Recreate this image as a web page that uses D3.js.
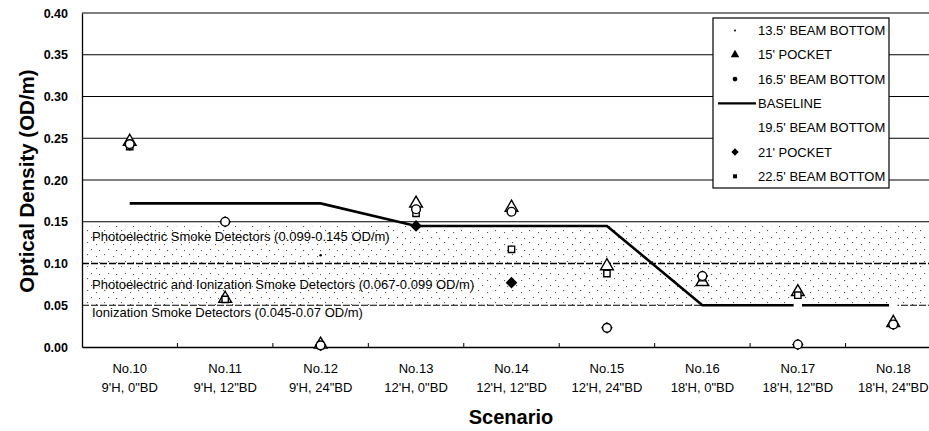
<!DOCTYPE html>
<html>
<head>
<meta charset="utf-8">
<script src="https://cdn.jsdelivr.net/npm/d3@7/dist/d3.min.js"></script>
<style>
  html, body { margin: 0; padding: 0; background: #fff; }
  svg { display: block; font-family: "Liberation Sans", Arial, sans-serif; }
</style>
</head>
<body>
<svg id="chart" width="929" height="431"></svg>
<script>
// ---------------- data ----------------
const categories = ["No.10", "No.11", "No.12", "No.13", "No.14", "No.15", "No.16", "No.17", "No.18"];
const subLabels = ["9'H, 0\"BD", "9'H, 12\"BD", "9'H, 24\"BD", "12'H, 0\"BD", "12'H, 12\"BD", "12'H, 24\"BD", "18'H, 0\"BD", "18'H, 12\"BD", "18'H, 24\"BD"];
const yTicks = [0, 0.05, 0.10, 0.15, 0.20, 0.25, 0.30, 0.35, 0.40];

const beam135 = [0.245, 0.150, 0.110, 0.165, 0.120, 0.100, 0.088, 0.065, 0.050];
const pocket15 = [0.246, 0.058, 0.003, 0.172, 0.167, 0.097, 0.078, 0.066, 0.029];
const beam165 = [0.243, 0.150, 0.002, 0.165, 0.162, 0.023, 0.085, 0.003, 0.027];
const baseline = [0.172, 0.172, 0.172, 0.145, 0.145, 0.145, 0.050, 0.050, 0.050];
const beam195 = [null, null, null, null, null, null, null, 0.050, 0.048];
const pocket21 = [0.242, 0.150, 0.002, 0.145, 0.077, 0.023, 0.085, 0.003, 0.027];
const beam225 = [0.240, 0.057, 0.002, 0.160, 0.117, 0.088, 0.083, 0.062, 0.027];

const seriesNames = ["13.5' BEAM BOTTOM", "15' POCKET", "16.5' BEAM BOTTOM", "BASELINE", "19.5' BEAM BOTTOM", "21' POCKET", "22.5' BEAM BOTTOM"];

const bandNames = ["Photoelectric Smoke Detectors (0.099-0.145 OD/m)",
                   "Photoelectric and Ionization Smoke Detectors (0.067-0.099 OD/m)",
                   "Ionization Smoke Detectors (0.045-0.07 OD/m)"];
const bandLow = [0.099, 0.067, 0.050];
const bandHigh = [0.145, 0.099, 0.070];

// ---------------- layout ----------------
const svg = d3.select("#chart");
const plotL = 82, plotR = 941, plotT = 13, plotB = 347;

const x = d3.scaleBand().domain(categories).range([plotL, plotR]).paddingInner(0).paddingOuter(0);
const y = d3.scaleLinear().domain([0, 0.40]).range([plotB, plotT]);
const cx = c => x(c) + x.bandwidth() / 2;
const diamond = d3.symbolDiamond2 || d3.symbolDiamond;

// sparse stipple pattern for detector bands
const defs = svg.append("defs");
const pat = defs.append("pattern").attr("id", "stip").attr("patternUnits", "userSpaceOnUse")
  .attr("width", 17).attr("height", 12);
[[2, 2], [11, 4], [6, 9], [14, 10]].forEach(p => {
  pat.append("rect").attr("x", p[0]).attr("y", p[1]).attr("width", 1.1).attr("height", 1.1).attr("fill", "#555");
});

// bands
svg.append("g").selectAll("rect").data(bandNames).join("rect")
  .attr("x", plotL).attr("width", plotR - plotL)
  .attr("y", (d, i) => y(bandHigh[i]))
  .attr("height", (d, i) => y(bandLow[i]) - y(bandHigh[i]))
  .attr("fill", "url(#stip)");

// gridlines
const isTen = d => Math.abs(d - 0.10) < 1e-9;
const isFive = d => Math.abs(d - 0.05) < 1e-9;
svg.append("g").selectAll("line").data(yTicks.filter(v => v > 0)).join("line")
  .attr("x1", plotL).attr("x2", plotR)
  .attr("y1", d => y(d)).attr("y2", d => y(d))
  .attr("stroke", "#000")
  .attr("stroke-width", d => isTen(d) ? 1.6 : 1.2)
  .attr("stroke-dasharray", d => (isTen(d) || isFive(d)) ? "7,2" : null);

// y axis
const yAxis = d3.axisLeft(y).tickValues(yTicks).tickFormat(d3.format(".2f")).tickSize(0).tickPadding(14);
const gy = svg.append("g").attr("transform", `translate(${plotL},0)`).call(yAxis);
gy.select(".domain").attr("stroke", "#000").attr("stroke-width", 1.3);
gy.selectAll("text").attr("font-size", 12.5).attr("font-weight", "bold").attr("fill", "#000")
  .attr("font-family", "Liberation Sans, Arial, sans-serif");

// x axis
const xAxis = d3.axisBottom(x).tickSize(0).tickFormat(() => "");
const gx = svg.append("g").attr("transform", `translate(0,${plotB})`).call(xAxis);
gx.select(".domain").attr("stroke", "#000").attr("stroke-width", 1.6);
svg.append("g").selectAll("line").data(categories.slice(1)).join("line")
  .attr("x1", d => x(d)).attr("x2", d => x(d))
  .attr("y1", plotB - 4).attr("y2", plotB)
  .attr("stroke", "#000").attr("stroke-width", 1);

const xl = svg.append("g").selectAll("g").data(categories).join("g")
  .attr("transform", d => `translate(${cx(d)},0)`);
xl.append("text").attr("y", 373).attr("text-anchor", "middle").attr("font-size", 13).text(d => d);
xl.append("text").attr("y", 392).attr("text-anchor", "middle").attr("font-size", 13)
  .text((d, i) => subLabels[i]);

// axis titles
svg.append("text").attr("x", 511).attr("y", 424).attr("text-anchor", "middle")
  .attr("font-size", 20).attr("font-weight", "bold").text("Scenario");
svg.append("text").attr("transform", "translate(34,181) rotate(-90)").attr("text-anchor", "middle")
  .attr("font-size", 20.5).attr("font-weight", "bold").text("Optical Density (OD/m)");

// band labels
const bandLabelY = [241, 289, 317];
svg.append("g").selectAll("text").data(bandNames).join("text")
  .attr("x", 92).attr("y", (d, i) => bandLabelY[i])
  .attr("font-size", 13).text(d => d);

// baseline line
const line = d3.line().x((d, i) => cx(categories[i])).y(d => y(d));
svg.append("path").datum(baseline).attr("d", line)
  .attr("fill", "none").attr("stroke", "#000").attr("stroke-width", 2.6);

// markers (21' pocket drawn first so hollow markers sit on top)
const markerSeries = [
  { vals: pocket21, type: diamond, size: 60, fill: "#000", stroke: "#000" },
  { vals: beam135, type: d3.symbolCircle, size: 5, fill: "#000", stroke: "none" },
  { vals: beam195, type: d3.symbolSquare, size: 70, fill: "#fff", stroke: "none" },
  { vals: pocket15, type: d3.symbolTriangle, size: 70, fill: "#fff", stroke: "#000" },
  { vals: beam225, type: d3.symbolSquare, size: 40, fill: "#fff", stroke: "#000" },
  { vals: beam165, type: d3.symbolCircle, size: 60, fill: "#fff", stroke: "#000" }
];
markerSeries.forEach(s => {
  svg.append("g").selectAll("path")
    .data(s.vals.map((v, i) => ({ v, c: categories[i] })).filter(d => d.v !== null))
    .join("path")
    .attr("transform", d => `translate(${cx(d.c)},${y(d.v)})`)
    .attr("d", d3.symbol().type(s.type).size(s.size))
    .attr("fill", s.fill).attr("stroke", s.stroke).attr("stroke-width", 1.4);
});

// legend
const lg = svg.append("g");
lg.append("rect").attr("x", 713).attr("y", 18).attr("width", 176).attr("height", 170)
  .attr("fill", "#fff").attr("stroke", "#000").attr("stroke-width", 1.2);
const legendSym = [
  { type: d3.symbolCircle, size: 3 },
  { type: d3.symbolTriangle, size: 32 },
  { type: d3.symbolCircle, size: 18 },
  null,
  { type: d3.symbolSquare, size: 0 },
  { type: diamond, size: 34 },
  { type: d3.symbolSquare, size: 16 }
];
const rows = lg.selectAll("g").data(seriesNames).join("g")
  .attr("transform", (d, i) => `translate(0,${30.5 + i * 24.3})`);
rows.each(function (d, i) {
  const g = d3.select(this);
  if (legendSym[i] === null) {
    g.append("line").attr("x1", 718).attr("x2", 756).attr("y1", 0).attr("y2", 0)
      .attr("stroke", "#000").attr("stroke-width", 2.2);
  } else if (legendSym[i].size > 0) {
    g.append("path").attr("transform", "translate(735,0)")
      .attr("d", d3.symbol().type(legendSym[i].type).size(legendSym[i].size)).attr("fill", "#000");
  }
  g.append("text").attr("x", 758).attr("y", 4.5).attr("font-size", 13).text(d);
});
</script>
</body>
</html>
